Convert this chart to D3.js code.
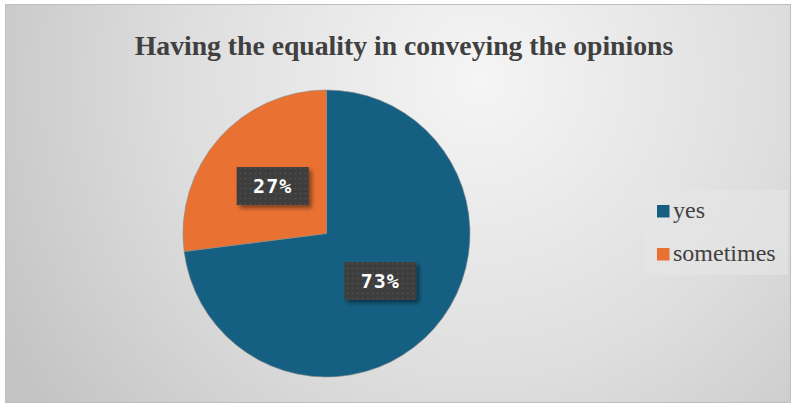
<!DOCTYPE html>
<html>
<head>
<meta charset="utf-8">
<script src="https://cdn.jsdelivr.net/npm/d3@7/dist/d3.min.js"></script>
<style>
  html, body { margin: 0; padding: 0; background: #ffffff; }
  svg { display: block; }
</style>
</head>
<body>
<svg id="chart" width="795" height="405"></svg>
<script>
const categories = ["yes", "sometimes"];
const values = [73, 27];
const colors = ["#156082", "#E97132"];
const titleText = "Having the equality in conveying the opinions";

const svg = d3.select("#chart");
const defs = svg.append("defs");
const serif = "'Liberation Serif', 'Times New Roman', serif";

// Background gradient of the chart area
const bg = defs.append("radialGradient")
  .attr("id", "bgGrad")
  .attr("gradientUnits", "userSpaceOnUse")
  .attr("cx", 480).attr("cy", 80).attr("r", 540);
bg.append("stop").attr("offset", "0%").attr("stop-color", "#f5f5f5");
bg.append("stop").attr("offset", "55%").attr("stop-color", "#dedede");
bg.append("stop").attr("offset", "100%").attr("stop-color", "#c4c4c4");

// Dotted texture for the value label boxes
const pat = defs.append("pattern")
  .attr("id", "dots").attr("patternUnits", "userSpaceOnUse")
  .attr("width", 5).attr("height", 5);
pat.append("rect").attr("width", 5).attr("height", 5).attr("fill", "#3e3e3e");
pat.append("circle").attr("cx", 2.5).attr("cy", 2.5).attr("r", 0.9).attr("fill", "#4f4f4f");

const shadow = defs.append("filter").attr("id", "shadow")
  .attr("x", "-20%").attr("y", "-20%").attr("width", "150%").attr("height", "160%");
shadow.append("feDropShadow").attr("dx", 3).attr("dy", 3).attr("stdDeviation", 2)
  .attr("flood-color", "#000").attr("flood-opacity", 0.45);

svg.append("rect")
  .attr("x", 5.5).attr("y", 4.5).attr("width", 785).attr("height", 398)
  .attr("fill", "url(#bgGrad)").attr("stroke", "#bfbfbf").attr("stroke-width", 1);

// Title
svg.append("text")
  .attr("x", 404).attr("y", 55)
  .attr("text-anchor", "middle")
  .attr("font-family", serif)
  .attr("font-weight", "bold")
  .attr("font-size", 27.7)
  .attr("fill", "#404040")
  .text(titleText);

// Pie
const cx = 326.5, cy = 233.5, R = 143.5;
const pie = d3.pie().sort(null).value(d => d)(values);
const arc = d3.arc().innerRadius(0).outerRadius(R);
const g = svg.append("g").attr("transform", `translate(${cx},${cy})`);
g.selectAll("path.slice").data(pie).join("path")
  .attr("class", "slice")
  .attr("d", arc)
  .attr("fill", (d, i) => colors[i])
  .attr("stroke", "#8a8a8a").attr("stroke-width", 0.6);

// Value labels
const labelArc = d3.arc().innerRadius(R * 0.5).outerRadius(R * 0.5);
const total = d3.sum(values);
const labels = g.selectAll("g.lbl").data(pie).join("g")
  .attr("class", "lbl")
  .attr("transform", d => {
    const [x, y] = labelArc.centroid(d);
    return `translate(${x},${y})`;
  });
labels.append("rect")
  .attr("x", -36).attr("y", -19).attr("width", 72).attr("height", 38)
  .attr("fill", "url(#dots)")
  .attr("filter", "url(#shadow)");
labels.append("text")
  .attr("text-anchor", "middle")
  .attr("dy", "0.35em")
  .attr("font-family", "'DejaVu Sans Mono', monospace")
  .attr("font-weight", "bold")
  .attr("font-size", 20)
  .attr("letter-spacing", 1)
  .attr("fill", "#ffffff")
  .text(d => Math.round(d.data / total * 100) + "%");

// Legend
const lg = svg.append("g");
lg.append("rect")
  .attr("x", 645).attr("y", 190).attr("width", 143).attr("height", 85)
  .attr("fill", "#e6e6e6").attr("fill-opacity", 0.6);
const items = lg.selectAll("g.item").data(categories).join("g")
  .attr("class", "item")
  .attr("transform", (d, i) => `translate(657, ${205 + i * 43})`);
items.append("rect").attr("width", 12.5).attr("height", 12.5)
  .attr("fill", (d, i) => colors[i]);
items.append("text")
  .attr("x", 16).attr("y", 13)
  .attr("font-family", serif)
  .attr("font-size", 24)
  .attr("fill", "#404040")
  .text(d => d);
</script>
</body>
</html>
